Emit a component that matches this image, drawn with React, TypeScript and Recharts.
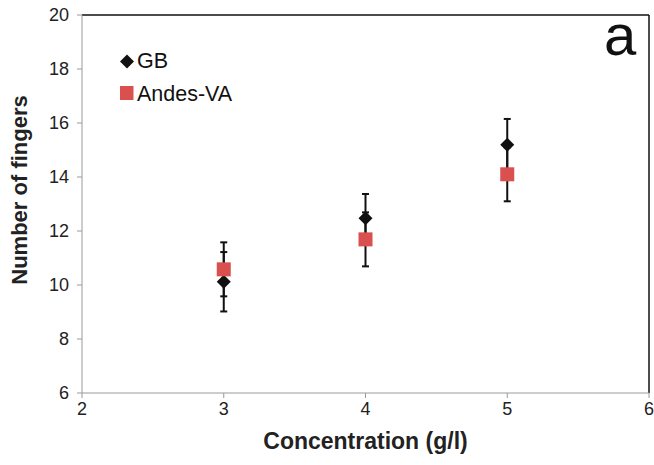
import React from 'react';
import { ScatterChart, Scatter, XAxis, YAxis, ErrorBar, ReferenceLine } from 'recharts';

const concentrations = [3, 4, 5];
const gbValues = [10.12, 12.47, 15.19];
const gbErrors = [1.1, 0.9, 0.96];
const andesValues = [10.58, 11.69, 14.1];
const andesErrors = [1.0, 1.0, 1.0];
const xTicks = [2, 3, 4, 5, 6];
const yTicks = [6, 8, 10, 12, 14, 16, 18, 20];
const seriesNames = ['GB', 'Andes-VA'];

const gbData = concentrations.map((c, i) => ({ x: c, y: gbValues[i], err: gbErrors[i] }));
const andesData = concentrations.map((c, i) => ({ x: c, y: andesValues[i], err: andesErrors[i] }));

const FONT = '"Liberation Sans", Arial, sans-serif';
const RED = '#D9504E';

const Diamond = (props: any) => {
  const { cx, cy } = props;
  const r = 7;
  return <polygon points={`${cx},${cy - r} ${cx + r},${cy} ${cx},${cy + r} ${cx - r},${cy}`} fill="#111" />;
};

const Square = (props: any) => {
  const { cx, cy } = props;
  const s = 14;
  return <rect x={cx - s / 2} y={cy - s / 2} width={s} height={s} fill={RED} />;
};

export default function App() {
  return (
    <div style={{ position: 'absolute', left: 0, top: 0, width: 654, height: 465, background: '#fff' }}>
      <ScatterChart width={654} height={465} margin={{ top: 15, right: 5, bottom: 0, left: 0 }}>
        <XAxis
          type="number"
          dataKey="x"
          domain={[2, 6]}
          ticks={xTicks}
          height={72}
          stroke="#9a9a9a"
          tickSize={5}
          tickMargin={4}
          tick={{ fill: '#222', fontSize: 18, fontFamily: FONT }}
          label={(p: any) => {
            const vb = p.viewBox;
            return (
              <text x={vb.x + vb.width / 2} y={449} textAnchor="middle" fontFamily={FONT} fontWeight="bold" fontSize={23} fill="#222">
                Concentration (g/l)
              </text>
            );
          }}
        />
        <YAxis
          type="number"
          dataKey="y"
          domain={[6, 20]}
          ticks={yTicks}
          width={82}
          stroke="#9a9a9a"
          tickSize={5}
          tickMargin={8}
          tick={{ fill: '#222', fontSize: 18, fontFamily: FONT }}
          label={() => (
            <text x={27} y={190} transform="rotate(-90 27 190)" textAnchor="middle" fontFamily={FONT} fontWeight="bold" fontSize={22} fill="#222">
              Number of fingers
            </text>
          )}
        />
        <ReferenceLine y={20} stroke="#111" strokeWidth={1.5} ifOverflow="visible" />
        <ReferenceLine x={6} stroke="#111" strokeWidth={1.5} ifOverflow="visible" />
        <Scatter name={seriesNames[0]} data={gbData} shape={Diamond} isAnimationActive={false}>
          <ErrorBar dataKey="err" direction="y" width={3.5} stroke="#111" strokeWidth={2} />
        </Scatter>
        <Scatter name={seriesNames[1]} data={andesData} shape={Square} isAnimationActive={false}>
          <ErrorBar dataKey="err" direction="y" width={3.5} stroke="#111" strokeWidth={2} />
        </Scatter>
      </ScatterChart>
      <svg width={654} height={465} style={{ position: 'absolute', left: 0, top: 0, pointerEvents: 'none' }}>
        <polygon points="127,54.5 134,61.5 127,68.5 120,61.5" fill="#111" />
        <text x={137} y={68} fontFamily={FONT} fontSize={21.5} fill="#111">{seriesNames[0]}</text>
        <rect x={120} y={86} width={13.5} height={14} fill={RED} />
        <text x={137} y={101} fontFamily={FONT} fontSize={21.5} fill="#111">{seriesNames[1]}</text>
        <text x={604} y={55} fontFamily={FONT} fontSize={58} fill="#111">a</text>
      </svg>
    </div>
  );
}
